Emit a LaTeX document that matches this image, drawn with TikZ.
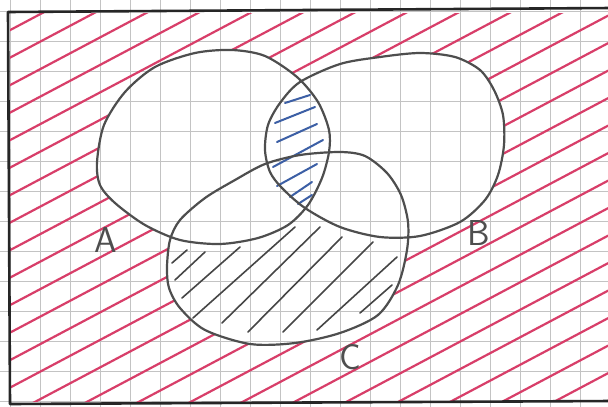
\documentclass[tikz,border=0pt]{standalone}
\usepackage{tikz}
\definecolor{hatchred}{RGB}{216,62,105}
\definecolor{hatchblue}{RGB}{60,95,165}
\definecolor{penline}{RGB}{78,78,78}
\definecolor{gridgray}{RGB}{195,195,195}
\tikzset{
  gridline/.style={draw=gridgray,line width=0.8pt},
  redhatch/.style={draw=hatchred,line width=2.2pt,line cap=round},
  blackhatch/.style={draw=penline!90!black,line width=1.6pt,line cap=round},
  bluehatch/.style={draw=hatchblue,line width=2pt,line cap=round},
  setline/.style={draw=penline,line width=2.2pt},
  framepen/.style={draw=black!85,line width=2.6pt,line join=round},
  setlabel/.style={text=penline,font=\sffamily\fontsize{36}{36}\selectfont,inner sep=0pt}
}
\def\Apath{plot[smooth cycle] coordinates {(97,162) (104,125) (125,92) (155,67) (195,53) (232,50) (265,56) (297,77) (318,102) (329,130) (329,152) (322,178) (308,205) (288,225) (258,238) (220,244) (180,240) (145,225) (115,203) (100,185)}}
\def\Bpath{plot[smooth cycle] coordinates {(265,150) (268,125) (280,103) (300,82) (340,64) (380,57) (420,53) (455,57) (480,70) (494,90) (503,115) (504,145) (498,175) (485,200) (460,222) (420,236) (380,237) (340,227) (305,208) (282,188) (270,172)}}
\def\Cpath{plot[smooth cycle] coordinates {(167,267) (170,240) (180,220) (205,198) (235,180) (265,164) (300,155) (340,152) (365,156) (387,173) (401,195) (408,222) (407,250) (398,285) (378,315) (340,333) (295,343) (250,344) (205,330) (180,308) (169,288)}}
\begin{document}
\begin{tikzpicture}[x=1pt,y=-1pt]
\useasboundingbox (0,0) rectangle (608,407);
\fill[white] (0,0) rectangle (608,407);
% grid paper
\foreach \i in {0,...,20} \draw[gridline] ({10+30*\i},0) -- ({10+30*\i},407);
\foreach \j in {0,...,13} \draw[gridline] (0,{11+30*\j}) -- (608,{11+30*\j});
% red hatching outside A, B and C
\begin{scope}[even odd rule]
\clip (10,13) rectangle (610,401);
\clip (0,0) rectangle (608,407) \Apath;
\clip (0,0) rectangle (608,407) \Bpath;
\clip (0,0) rectangle (608,407) \Cpath;
\foreach \n in {-3,...,25}
  \draw[redhatch] (0,{62.95+27.5*\n}) -- (608,{-259.3+27.5*\n});
\end{scope}
% black hatching: C without A and B
\foreach \xa/\ya/\xb/\yb in {172/263/187/250, 175/280/205/252, 182/298/240/247, 193/318/295/227, 222/323/320/227, 248/332/342/237, 283/332/373/242, 317/330/397/257, 360/313/392/285}
  \draw[blackhatch] (\xa,\ya) -- (\xb,\yb);
% blue hatching: A and B
\foreach \xa/\ya/\xb/\yb in {285/103/310/95, 275/123/315/107, 277/142/317/124, 273/167/323/140, 277/186/317/164, 290/197/312/182, 298/204/312/195}
  \draw[bluehatch] (\xa,\ya) -- (\xb,\yb);
% sets
\draw[setline] \Apath;
\draw[setline] \Bpath;
\draw[setline] \Cpath;
% frame
\draw[framepen] (612,8) -- (8,12) -- (10,404) -- (612,401);
% labels
\node[setlabel] (la) at (106,240) {A};
\node[setlabel] (lb) at (479,233) {B};
\node[setlabel] (lc) at (350,357) {C};
\end{tikzpicture}
\end{document}
